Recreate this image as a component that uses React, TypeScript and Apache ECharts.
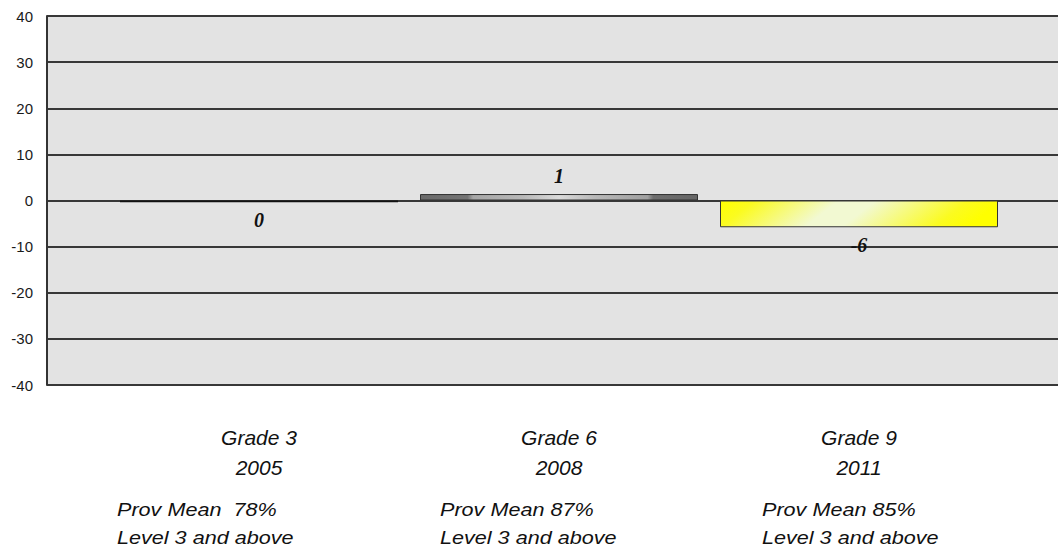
import React, { useEffect, useRef } from "react";
import * as echarts from "echarts";

const categories = ["Grade 3\n2005", "Grade 6\n2008", "Grade 9\n2011"];
const values = [-0.4, 1.4, -5.8];
const valueLabels = ["0", "1", "-6"];
const provMeanLabels = ["Prov Mean  78%", "Prov Mean 87%", "Prov Mean 85%"];
const levelLabels = ["Level 3 and above", "Level 3 and above", "Level 3 and above"];
const yMin = -40;
const yMax = 40;
const yInterval = 10;

const barStyles = [
  { color: "#111111", borderColor: "#111111", borderWidth: 0 },
  {
    color: new echarts.graphic.LinearGradient(0, 0, 1, 0, [
      { offset: 0, color: "#6a6a6a" },
      { offset: 0.17, color: "#747474" },
      { offset: 0.19, color: "#a6a6a6" },
      { offset: 0.37, color: "#b8b8b8" },
      { offset: 0.5, color: "#dadada" },
      { offset: 0.63, color: "#b8b8b8" },
      { offset: 0.82, color: "#a0a0a0" },
      { offset: 0.84, color: "#6e6e6e" },
      { offset: 1, color: "#666666" },
    ]),
    borderColor: "#333333",
    borderWidth: 1,
  },
  {
    color: new echarts.graphic.LinearGradient(0, 0, 1, 0.12, [
      { offset: 0, color: "#ffff00" },
      { offset: 0.12, color: "#fbfb20" },
      { offset: 0.42, color: "#f2f9d2" },
      { offset: 0.55, color: "#f2f9d2" },
      { offset: 0.88, color: "#fbfb20" },
      { offset: 1, color: "#ffff00" },
    ]),
    borderColor: "#333333",
    borderWidth: 1,
  },
];

export default function App() {
  const ref = useRef<HTMLDivElement>(null);
  useEffect(() => {
    if (!ref.current) return;
    const chart = echarts.init(ref.current, undefined, { renderer: "svg" });
    const textX = [117, 440, 762];
    const graphics: any[] = [];
    provMeanLabels.forEach((t, i) => {
      graphics.push({
        type: "text",
        x: textX[i],
        y: 510,
        scaleX: 1.2,
        style: {
          text: t,
          font: "italic 18px Arial, 'Liberation Sans', sans-serif",
          fill: "#111",
          textAlign: "left",
          textVerticalAlign: "middle",
        },
      });
      graphics.push({
        type: "text",
        x: textX[i],
        y: 538,
        scaleX: 1.2,
        style: {
          text: levelLabels[i],
          font: "italic 18px Arial, 'Liberation Sans', sans-serif",
          fill: "#111",
          textAlign: "left",
          textVerticalAlign: "middle",
        },
      });
    });
    chart.setOption({
      animation: false,
      backgroundColor: "#ffffff",
      grid: [
        {
          left: 47,
          top: 16,
          bottom: 163,
          width: 1100,
          show: true,
          backgroundColor: "#e3e3e3",
          borderWidth: 0,
        },
        { left: 109, top: 16, bottom: 163, width: 900 },
      ],
      xAxis: [
        { gridIndex: 0, type: "value", min: 0, max: 1, show: false },
        {
          gridIndex: 1,
          type: "category",
          data: categories,
          axisLine: { show: false },
          axisTick: { show: false },
          axisLabel: {
            margin: 37,
            fontSize: 21,
            fontStyle: "italic",
            fontFamily: "Arial, 'Liberation Sans', sans-serif",
            color: "#111",
            lineHeight: 30,
            align: "center",
          },
        },
      ],
      yAxis: [
        {
          gridIndex: 0,
          type: "value",
          min: yMin,
          max: yMax,
          interval: yInterval,
          axisLine: { show: true, lineStyle: { color: "#333", width: 2 } },
          axisTick: { show: false },
          axisLabel: {
            margin: 14,
            fontSize: 15,
            fontFamily: "Arial, 'Liberation Sans', sans-serif",
            color: "#1a1a1a",
          },
          splitLine: { show: true, lineStyle: { color: "#383838", width: 2 } },
        },
        {
          gridIndex: 1,
          type: "value",
          min: yMin,
          max: yMax,
          interval: yInterval,
          show: false,
          splitLine: { show: false },
        },
      ],
      series: [
        {
          type: "bar",
          xAxisIndex: 1,
          yAxisIndex: 1,
          barWidth: 278,
          data: values.map((v, i) => ({
            value: v,
            itemStyle: barStyles[i],
            label: {
              show: true,
              position: v >= 0 ? "top" : "bottom",
              distance: 8,
              formatter: valueLabels[i],
              fontSize: 20,
              fontWeight: "bold",
              fontStyle: "italic",
              fontFamily: "'Liberation Serif', 'Times New Roman', serif",
              color: "#111",
            },
          })),
        },
      ],
      graphic: graphics,
    });
    return () => chart.dispose();
  }, []);
  return (
    <div
      ref={ref}
      style={{ position: "fixed", left: 0, top: 0, width: 1058, height: 548 }}
    />
  );
}
